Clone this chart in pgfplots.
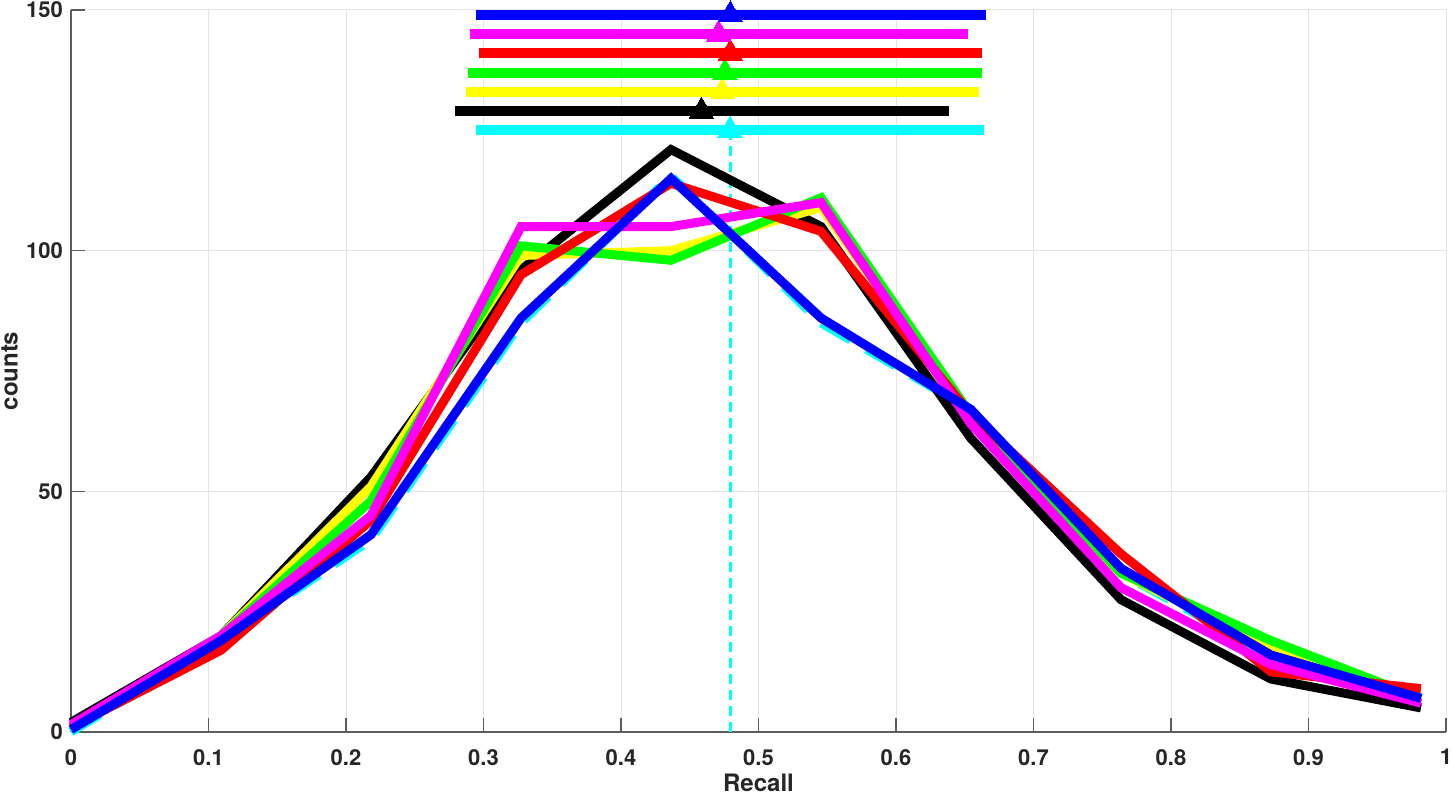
\documentclass[border=0pt]{standalone}
\usepackage{pgfplots}
\pgfplotsset{compat=1.18}
\usepackage{fontspec}
\setmainfont{TeX Gyre Heros}
\definecolor{axgray}{RGB}{38,38,38}
\definecolor{gridgray}{RGB}{228,228,228}
\definecolor{mcyan}{RGB}{0,255,255}
\definecolor{mmagenta}{RGB}{255,0,255}
\definecolor{mred}{RGB}{255,0,0}
\definecolor{mgreen}{RGB}{0,255,0}
\definecolor{myellow}{RGB}{255,255,0}
\definecolor{mblue}{RGB}{0,0,255}
\definecolor{mblack}{RGB}{0,0,0}
\begin{document}
\begin{tikzpicture}
\begin{axis}[
  scale only axis,
  width=1375pt, height=722pt,
  xmin=0, xmax=1, ymin=0, ymax=150,
  axis x line=bottom, axis y line=left,
  axis line style={-, axgray!75, line width=1.2pt},
  tick align=inside,
  major tick length=14pt,
  tick style={axgray!75, line width=1.2pt},
  xtick={0,0.1,0.2,0.3,0.4,0.5,0.6,0.7,0.8,0.9,1},
  xticklabels={0,0.1,0.2,0.3,0.4,0.5,0.6,0.7,0.8,0.9,1},
  ytick={0,50,100,150},
  yticklabels={0,50,100,150},
  grid=major,
  major grid style={gridgray, line width=1pt},
  /pgf/number format/assume math mode=true,
  ticklabel style={font=\fontsize{22}{22}\selectfont\bfseries, text=axgray},
  xticklabel style={inner sep=0pt, anchor=north, yshift=-17pt},
  yticklabel style={inner sep=0pt, anchor=east, xshift=-8pt},
  xlabel={Recall}, ylabel={counts},
  label style={font=\fontsize{24}{24}\selectfont\bfseries, text=axgray},
  xlabel style={at={(axis description cs:0.5,0)}, anchor=north, inner sep=0pt, yshift=-42pt},
  ylabel style={at={(axis description cs:-0.0385,0.5)}, rotate=0, anchor=south, inner sep=0pt},
  clip=false,
  every axis plot/.append style={line width=9pt},
]
% curves
\addplot[mcyan, dash pattern=on 34pt off 18pt] coordinates {
(0,0) (0.1091,19) (0.2182,40) (0.3273,85) (0.4364,115.5) (0.5455,85) (0.6545,67) (0.7636,33) (0.8727,16) (0.9818,7)};
\addplot[mcyan, line width=3pt, dash pattern=on 10pt off 6pt] coordinates {(0.4797,0) (0.4797,125)};
\addplot[mblack] coordinates {
(0,2) (0.1091,20) (0.2182,53) (0.3273,96) (0.4364,121) (0.5455,105) (0.6545,61) (0.7636,27.5) (0.8727,11) (0.9818,5)};
\addplot[myellow] coordinates {
(0,1) (0.1091,20) (0.2182,51) (0.3273,99) (0.4364,100) (0.5455,109) (0.6545,65) (0.7636,33) (0.8727,17.5) (0.9818,7)};
\addplot[mgreen] coordinates {
(0,1) (0.1091,20) (0.2182,48) (0.3273,101) (0.4364,98) (0.5455,111) (0.6545,66) (0.7636,33) (0.8727,19) (0.9818,7)};
\addplot[mred] coordinates {
(0,1) (0.1091,17) (0.2182,44) (0.3273,95) (0.4364,114) (0.5455,104) (0.6545,66) (0.7636,37) (0.8727,12.5) (0.9818,9)};
\addplot[mmagenta] coordinates {
(0,1.5) (0.1091,20) (0.2182,45) (0.3273,105) (0.4364,105) (0.5455,110) (0.6545,64) (0.7636,30) (0.8727,14) (0.9818,6)};
\addplot[mblue] coordinates {
(0,0.5) (0.1091,19) (0.2182,41) (0.3273,86) (0.4364,115) (0.5455,86) (0.6545,67) (0.7636,34) (0.8727,16) (0.9818,7)};
% range bars
\addplot[mcyan, line width=10pt] coordinates {(0.2948,125) (0.6640,125)};
\addplot[mblack, line width=10pt] coordinates {(0.2793,129) (0.6386,129)};
\addplot[myellow, line width=10pt] coordinates {(0.2876,133) (0.6606,133)};
\addplot[mgreen, line width=10pt] coordinates {(0.2886,137) (0.6627,137)};
\addplot[mred, line width=10pt] coordinates {(0.2969,141) (0.6627,141)};
\addplot[mmagenta, line width=10pt] coordinates {(0.2904,145) (0.6520,145)};
\addplot[mblue, line width=10pt] coordinates {(0.2948,149) (0.6655,149)};
% mean markers
\addplot[only marks, mark=triangle*, mark size=14pt, mcyan, mark options={line width=0pt}] coordinates {(0.4793,125)};
\addplot[only marks, mark=triangle*, mark size=14pt, mblack, mark options={line width=0pt}] coordinates {(0.4585,129)};
\addplot[only marks, mark=triangle*, mark size=14pt, myellow, mark options={line width=0pt}] coordinates {(0.4736,133)};
\addplot[only marks, mark=triangle*, mark size=14pt, mgreen, mark options={line width=0pt}] coordinates {(0.4756,137)};
\addplot[only marks, mark=triangle*, mark size=14pt, mred, mark options={line width=0pt}] coordinates {(0.4795,141)};
\addplot[only marks, mark=triangle*, mark size=14pt, mmagenta, mark options={line width=0pt}] coordinates {(0.4710,145)};
\addplot[only marks, mark=triangle*, mark size=14pt, mblue, mark options={line width=0pt}] coordinates {(0.4795,149)};
\end{axis}
\pgfresetboundingbox
\path[use as bounding box] ([xshift=-71pt,yshift=-63pt]current axis.south west) rectangle ([xshift=6pt,yshift=10pt]current axis.north east);
\end{tikzpicture}
\end{document}
